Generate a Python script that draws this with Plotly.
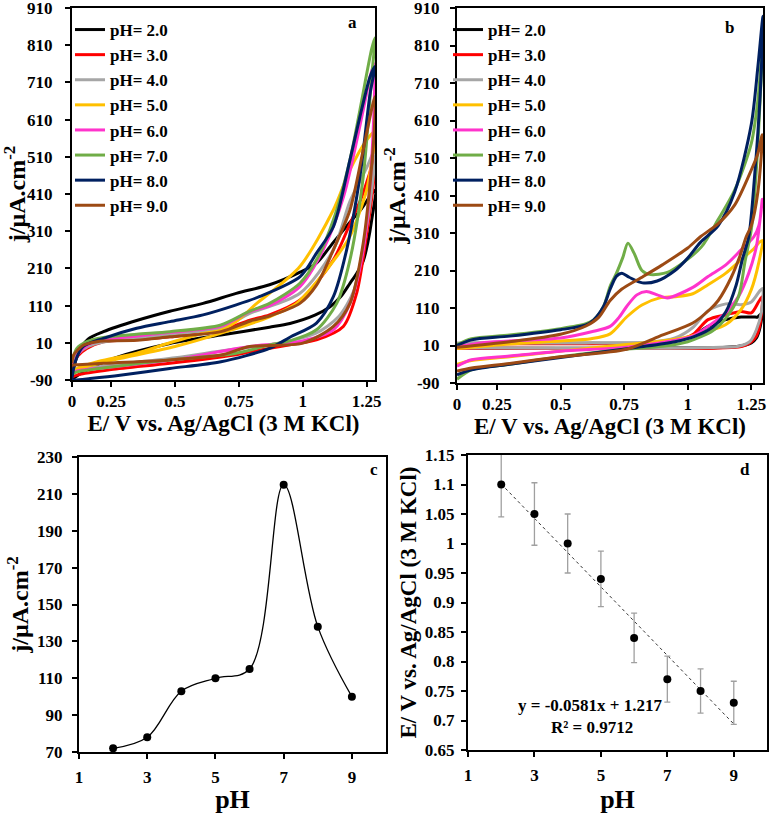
import plotly.graph_objects as go

FONT = "Liberation Serif"
W, H = 771, 814

PH_LABELS = ["pH= 2.0", "pH= 3.0", "pH= 4.0", "pH= 5.0",
             "pH= 6.0", "pH= 7.0", "pH= 8.0", "pH= 9.0"]
PH_COLORS = ["#000000", "#FF0000", "#A6A6A6", "#FFC000",
             "#FF33CC", "#70AD47", "#002060", "#9C4A14"]

# ---------------- panel a : CVs (forward branch then reverse branch) -------------
A_PH2_X = [0.097, 0.12, 0.16, 0.22, 0.35, 0.48, 0.61, 0.74, 0.87, 0.99, 1.055, 1.12, 1.18, 1.23, 1.283,
           1.27, 1.255, 1.237, 1.21, 1.185, 1.15, 1.107, 1.05, 0.95, 0.87, 0.68, 0.48, 0.26, 0.15, 0.097]
A_PH2_Y = [-80, -20, 20, 40, 70, 95, 116, 143, 166, 200, 225, 280, 330, 370, 420,
           340, 280, 230, 195, 170, 135, 107, 85, 62, 52, 31, 8, -32, -65, -88]
A_PH3_X = [0.097, 0.12, 0.155, 0.22, 0.35, 0.48, 0.68, 0.793, 0.87, 0.99, 1.12, 1.185, 1.23, 1.264, 1.283,
           1.277, 1.25, 1.211, 1.159, 1.054, 0.95, 0.87, 0.793, 0.74, 0.48, 0.25, 0.116, 0.097]
A_PH3_Y = [-60, -25, -5, 13, 18, 26, 44, 71, 85, 125, 233, 330, 400, 470, 510,
           440, 300, 143, 54, 18, 5, -5, -14, -22, -45, -62, -77, -82]
A_PH4_X = [0.097, 0.12, 0.16, 0.22, 0.35, 0.48, 0.68, 0.793, 0.989, 1.12, 1.185, 1.25, 1.283,
           1.27, 1.24, 1.2, 1.14, 1.05, 0.9, 0.7, 0.5, 0.25, 0.12, 0.097]
A_PH4_Y = [-45, -20, 0, 12, 22, 32, 50, 89, 143, 260, 390, 480, 530,
           420, 280, 150, 80, 35, 8, -10, -30, -50, -62, -65]
A_PH5_X = [0.097, 0.116, 0.2, 0.35, 0.48, 0.61, 0.68, 0.74, 0.82, 0.87, 0.989, 1.12, 1.185, 1.25, 1.283,
           1.27, 1.25, 1.185, 1.133, 1.05, 0.976, 0.87, 0.7, 0.5, 0.3, 0.15, 0.097]
A_PH5_Y = [-70, -59, -40, -18, 10, 35, 44, 67, 116, 143, 215, 367, 475, 555, 578,
           500, 420, 296, 242, 170, 116, 80, 40, 0, -30, -55, -68]
A_PH6_X = [0.097, 0.12, 0.16, 0.22, 0.35, 0.48, 0.68, 0.793, 0.87, 0.989, 1.08, 1.16, 1.237, 1.264, 1.28,
           1.27, 1.237, 1.185, 1.12, 1.0, 0.793, 0.5, 0.25, 0.12, 0.097]
A_PH6_Y = [-50, -20, 5, 18, 28, 38, 55, 94, 110, 161, 260, 403, 636, 726, 760,
           502, 260, 116, 45, 15, 0, -35, -55, -65, -70]
A_PH7_X = [0.097, 0.116, 0.155, 0.22, 0.35, 0.48, 0.68, 0.793, 0.87, 0.989, 1.054, 1.12, 1.185, 1.224, 1.27, 1.283,
           1.27, 1.237, 1.185, 1.133, 1.054, 0.95, 0.87, 0.74, 0.48, 0.25, 0.116, 0.097]
A_PH7_Y = [-40, -5, 13, 24, 33, 40, 58, 95, 116, 170, 233, 340, 502, 636, 800, 830,
           726, 457, 233, 116, 45, 15, 4, -18, -36, -55, -68, -75]
A_PH8_X = [0.097, 0.11, 0.14, 0.22, 0.35, 0.48, 0.61, 0.74, 0.83, 0.99, 1.054, 1.12, 1.185, 1.224, 1.264, 1.283,
           1.264, 1.224, 1.172, 1.12, 1.054, 0.95, 0.87, 0.68, 0.48, 0.285, 0.168, 0.11, 0.097]
A_PH8_Y = [-85, -40, 0, 22, 49, 67, 85, 112, 134, 188, 251, 322, 502, 618, 726, 753,
           681, 457, 260, 134, 63, 25, -5, -41, -59, -77, -86, -90, -90]
A_PH9_X = [0.097, 0.103, 0.142, 0.194, 0.22, 0.35, 0.48, 0.68, 0.793, 0.87, 0.989, 1.054, 1.12, 1.185, 1.237, 1.283,
           1.277, 1.237, 1.185, 1.12, 1.0, 0.793, 0.68, 0.48, 0.22, 0.103, 0.097]
A_PH9_Y = [-45, -23, 4, 13, 15, 17, 26, 40, 68, 82, 116, 165, 260, 367, 529, 672,
           547, 278, 116, 54, 9, 0, -23, -36, -45, -50, -50]

# ---------------- panel b : CVs ----------------
B_PH2_X = [0.093, 0.15, 0.3, 0.5, 0.7, 0.85, 0.95, 1.02, 1.08, 1.15, 1.21, 1.26, 1.275,
           1.29, 1.285, 1.27, 1.25, 1.2, 1.1, 0.9, 0.5, 0.2, 0.093]
B_PH2_Y = [14, 16, 16, 16, 16, 17, 22, 35, 61, 79, 86, 86, 86,
           95, 60, 30, 17, 8, 4, 3, 3, 3, 5]
B_PH3_X = [0.093, 0.3, 0.6, 0.85, 0.95, 1.02, 1.08, 1.15, 1.21, 1.25, 1.28, 1.293,
           1.285, 1.27, 1.25, 1.23, 1.2, 1.1, 0.9, 0.5, 0.093]
B_PH3_Y = [14, 15, 15, 16, 22, 39, 79, 92, 101, 97, 128, 140,
           70, 35, 20, 12, 6, 3, 2, 2, 3]
B_PH4_X = [0.093, 0.3, 0.6, 0.85, 0.95, 1.02, 1.08, 1.15, 1.21, 1.25, 1.285, 1.295,
           1.29, 1.27, 1.245, 1.2, 1.1, 0.9, 0.5, 0.093]
B_PH4_Y = [17, 17, 17, 19, 30, 58, 103, 121, 119, 126, 157, 162,
           100, 52, 21, 8, 5, 3, 3, 4]
B_PH5_X = [0.093, 0.3, 0.5, 0.62, 0.695, 0.76, 0.82, 0.89, 0.95, 1.02, 1.08, 1.15, 1.21, 1.26, 1.28, 1.293,
           1.28, 1.25, 1.21, 1.15, 1.08, 1.0, 0.9, 0.75, 0.5, 0.3, 0.15, 0.093]
B_PH5_Y = [2, 14, 22, 28, 41, 86, 118, 137, 140, 148, 172, 203, 239, 268, 284, 290,
           233, 159, 106, 66, 48, 33, 22, 12, -5, -20, -30, -40]
B_PH6_X = [0.093, 0.2, 0.5, 0.63, 0.695, 0.73, 0.76, 0.8, 0.838, 0.88, 0.92, 1.02, 1.08, 1.15, 1.21, 1.26, 1.28, 1.293,
           1.27, 1.24, 1.2, 1.15, 1.08, 1.02, 0.9, 0.75, 0.5, 0.3, 0.15, 0.093]
B_PH6_Y = [6, 18, 30, 48, 61, 85, 114, 145, 154, 145, 137, 165, 194, 225, 265, 300, 330, 400,
           274, 203, 141, 97, 61, 35, 18, 5, -5, -18, -28, -45]
B_PH7_X = [0.093, 0.15, 0.3, 0.5, 0.6, 0.63, 0.669, 0.695, 0.72, 0.745, 0.765, 0.79, 0.82, 0.855, 0.92, 0.99, 1.054,
           1.119, 1.185, 1.25, 1.276, 1.293,
           1.27, 1.25, 1.225, 1.2, 1.15, 1.1, 1.0, 0.9, 0.75, 0.5, 0.3, 0.15, 0.093]
B_PH7_Y = [12, 28, 38, 55, 68, 78, 114, 168, 203, 245, 283, 255, 210, 199, 205, 235, 273,
           345, 425, 549, 665, 800,
           480, 319, 233, 141, 83, 50, 20, 8, 0, -20, -40, -55, -80]
B_PH8_X = [0.093, 0.15, 0.3, 0.5, 0.6, 0.63, 0.669, 0.695, 0.72, 0.741, 0.77, 0.822, 0.88, 0.95, 1.0, 1.05, 1.12,
           1.185, 1.25, 1.276, 1.296,
           1.285, 1.263, 1.24, 1.215, 1.19, 1.15, 1.1, 1.03, 0.95, 0.8, 0.5, 0.3, 0.15, 0.093]
B_PH8_Y = [10, 25, 35, 52, 65, 78, 114, 160, 195, 203, 192, 177, 182, 210, 243, 285, 330,
           420, 600, 754, 888,
           680, 462, 300, 240, 170, 100, 60, 35, 20, 5, -22, -40, -55, -68]
B_PH9_X = [0.093, 0.3, 0.5, 0.6, 0.65, 0.695, 0.74, 0.825, 0.9, 1.0, 1.05, 1.12, 1.185, 1.25, 1.275, 1.293,
           1.276, 1.25, 1.23, 1.205, 1.17, 1.12, 1.087, 1.02, 0.89, 0.76, 0.5, 0.3, 0.15, 0.093]
B_PH9_Y = [5, 20, 40, 62, 85, 130, 160, 194, 225, 270, 300, 335, 385, 478, 520, 572,
           420, 330, 300, 248, 190, 130, 106, 70, 35, 0, -20, -38, -50, -58]

A_CURVES = [(A_PH2_X, A_PH2_Y), (A_PH3_X, A_PH3_Y), (A_PH4_X, A_PH4_Y), (A_PH5_X, A_PH5_Y),
            (A_PH6_X, A_PH6_Y), (A_PH7_X, A_PH7_Y), (A_PH8_X, A_PH8_Y), (A_PH9_X, A_PH9_Y)]
B_CURVES = [(B_PH2_X, B_PH2_Y), (B_PH3_X, B_PH3_Y), (B_PH4_X, B_PH4_Y), (B_PH5_X, B_PH5_Y),
            (B_PH6_X, B_PH6_Y), (B_PH7_X, B_PH7_Y), (B_PH8_X, B_PH8_Y), (B_PH9_X, B_PH9_Y)]

CV_Y_TICKS = [-90, 10, 110, 210, 310, 410, 510, 610, 710, 810, 910]
A_X_TICKVALS = [0.097, 0.25, 0.5, 0.75, 1.0, 1.25]
B_X_TICKVALS = [0.093, 0.25, 0.5, 0.75, 1.0, 1.25]
CV_X_TICKTEXT = ["0", "0.25", "0.5", "0.75", "1", "1.25"]

# ---------------- panel c ----------------
C_PH = [2, 3, 4, 5, 6, 7, 8, 9]
C_J = [72, 78, 103, 110, 115, 215, 138, 100]

# ---------------- panel d ----------------
D_PH = [2, 3, 4, 5, 6, 7, 8, 9]
D_E = [1.10, 1.05, 1.00, 0.94, 0.84, 0.77, 0.75, 0.73]
D_ERR = [0.055, 0.053, 0.05, 0.047, 0.042, 0.039, 0.0375, 0.0365]
D_SLOPE, D_INTERCEPT = -0.0581, 1.217
PH_TICKS = [1, 3, 5, 7, 9]

fig = go.Figure()

for i, (x, y) in enumerate(A_CURVES):
    fig.add_trace(go.Scatter(x=x, y=y, mode="lines", name=PH_LABELS[i],
                             line=dict(color=PH_COLORS[i], width=3, shape="spline", smoothing=0.8),
                             xaxis="x", yaxis="y", legend="legend"))
for i, (x, y) in enumerate(B_CURVES):
    fig.add_trace(go.Scatter(x=x, y=y, mode="lines", name=PH_LABELS[i],
                             line=dict(color=PH_COLORS[i], width=3, shape="spline", smoothing=0.8),
                             xaxis="x2", yaxis="y2", legend="legend2"))

fig.add_trace(go.Scatter(x=C_PH, y=C_J, mode="lines+markers", showlegend=False,
                         line=dict(color="black", width=1.3, shape="spline", smoothing=1.0),
                         marker=dict(color="black", size=8),
                         xaxis="x3", yaxis="y3"))

fit_x = [D_PH[0], D_PH[-1]]
fit_y = [D_SLOPE * v + D_INTERCEPT for v in fit_x]
fig.add_trace(go.Scatter(x=fit_x, y=fit_y, mode="lines", showlegend=False,
                         line=dict(color="#333333", width=1, dash="dot"),
                         xaxis="x4", yaxis="y4"))
fig.add_trace(go.Scatter(x=D_PH, y=D_E, mode="markers", showlegend=False,
                         marker=dict(color="black", size=8),
                         error_y=dict(type="data", array=D_ERR, color="#A0A0A0", thickness=1.3, width=3),
                         xaxis="x4", yaxis="y4"))

TICKFONT = dict(family=FONT, size=17, color="black", weight="bold")


def px_x(a, b):
    return [a / W, b / W]


def px_y(top, bottom):
    return [1 - bottom / H, 1 - top / H]


def axis(domain, rng, anchor, title, tsize, standoff, lblstand, **kw):
    d = dict(domain=domain, range=rng, anchor=anchor, showline=True, linecolor="black", linewidth=2,
             mirror=True, ticks="outside", ticklen=5, tickwidth=1.5, tickcolor="black",
             showgrid=False, zeroline=False, tickfont=TICKFONT, automargin=False,
             ticklabelstandoff=lblstand, ticklabeloverflow="allow",
             title=dict(text=title, standoff=standoff,
                        font=dict(family=FONT, size=tsize, color="black", weight="bold")))
    d.update(kw)
    return d


E_TITLE = "E/ V vs. Ag/AgCl (3 M KCl)"
J_TITLE = "j/µA.cm<sup>-2</sup>"

fig.update_layout(
    width=W, height=H, autosize=False,
    margin=dict(l=0, r=0, t=0, b=0),
    paper_bgcolor="white", plot_bgcolor="white",
    xaxis=axis(px_x(72, 375), [0.097, 1.283], "y", E_TITLE, 23, 2, 0,
               tickvals=A_X_TICKVALS, ticktext=CV_X_TICKTEXT),
    yaxis=axis(px_y(8, 380), [-90, 910], "x", J_TITLE, 24, 0, 9,
               tickvals=CV_Y_TICKS, ticktext=[str(v) for v in CV_Y_TICKS]),
    xaxis2=axis(px_x(457, 763), [0.093, 1.296], "y2", E_TITLE, 23, 4, 0,
                tickvals=B_X_TICKVALS, ticktext=CV_X_TICKTEXT),
    yaxis2=axis(px_y(8, 383), [-90, 910], "x2", J_TITLE, 24, 2, 7,
                tickvals=CV_Y_TICKS, ticktext=[str(v) for v in CV_Y_TICKS]),
    xaxis3=axis(px_x(79, 386), [1, 10], "y3", "pH", 26, 0, 4, tickvals=PH_TICKS),
    yaxis3=axis(px_y(457, 752), [70, 230], "x3", J_TITLE, 24, 2, 6, tick0=70, dtick=20),
    xaxis4=axis(px_x(468, 767), [1, 10], "y4", "pH", 26, 0, 4, tickvals=PH_TICKS),
    yaxis4=axis(px_y(455, 750), [0.65, 1.15], "x4", E_TITLE, 23, 2, 3, tick0=0.65, dtick=0.05),
    legend=dict(x=70 / W, y=1 - 12 / H, xanchor="left", yanchor="top", bgcolor="rgba(0,0,0,0)",
                font=dict(family=FONT, size=17, color="black", weight="bold"), itemwidth=30,
                tracegroupgap=0),
    legend2=dict(x=448 / W, y=1 - 12 / H, xanchor="left", yanchor="top", bgcolor="rgba(0,0,0,0)",
                 font=dict(family=FONT, size=17, color="black", weight="bold"), itemwidth=30,
                 tracegroupgap=0),
)

ANN_FONT = dict(family=FONT, size=17, color="black", weight="bold")
panel_labels = [("a", 352, 23), ("b", 729, 27), ("c", 374, 469), ("d", 745, 469)]
for txt, xp, yp in panel_labels:
    fig.add_annotation(text=txt, x=xp / W, y=1 - yp / H, xref="paper", yref="paper",
                       showarrow=False, font=ANN_FONT, xanchor="center", yanchor="middle")

fig.add_annotation(text="y = -0.0581x + 1.217", x=590 / W, y=1 - 705 / H, xref="paper", yref="paper",
                   showarrow=False, font=ANN_FONT, xanchor="center", yanchor="middle")
fig.add_annotation(text="R² = 0.9712", x=592 / W, y=1 - 727 / H, xref="paper", yref="paper",
                   showarrow=False, font=ANN_FONT, xanchor="center", yanchor="middle")

fig.write_html("out.html", config={"displayModeBar": False},
               post_script="document.body.style.margin='0';")
